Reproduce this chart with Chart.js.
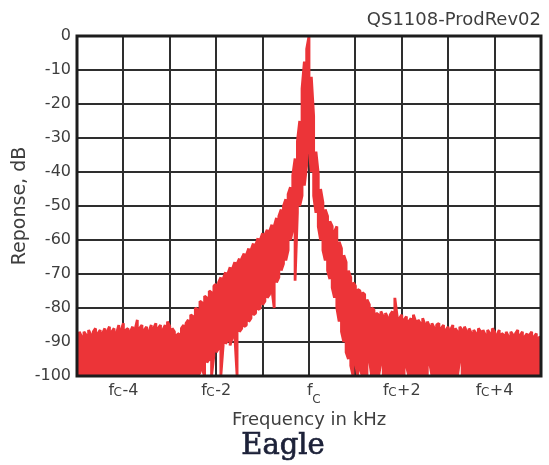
<!DOCTYPE html>
<html>
<head>
<meta charset="utf-8">
<title>Eagle spectrum</title>
<script src="https://cdn.jsdelivr.net/npm/chart.js@4.4.1/dist/chart.umd.min.js"></script>
<style>
  html, body { margin: 0; padding: 0; background: #ffffff; }
  #wrap { width: 549px; height: 465px; }
</style>
</head>
<body>
<div id="wrap"><canvas id="spectrum" width="549" height="465"></canvas></div>
<script>
// Frequency offset from the carrier fc, in kHz
const freqs = [
  -5,-4.95,-4.9,-4.85,-4.8,-4.75,-4.7,-4.65,-4.6,-4.55,-4.5,-4.45,-4.4,-4.35,-4.3,-4.25,-4.2,-4.15,-4.1,-4.05,
  -4,-3.95,-3.9,-3.85,-3.8,-3.75,-3.7,-3.65,-3.6,-3.55,-3.5,-3.45,-3.4,-3.35,-3.3,-3.25,-3.2,-3.15,-3.1,-3.05,
  -3,-2.95,-2.9,-2.85,-2.8,-2.75,-2.7,-2.65,-2.6,-2.55,-2.5,-2.45,-2.4,-2.35,-2.3,-2.25,-2.2,-2.15,-2.1,-2.05,
  -2,-1.95,-1.9,-1.85,-1.8,-1.75,-1.7,-1.65,-1.6,-1.55,-1.5,-1.45,-1.4,-1.35,-1.3,-1.25,-1.2,-1.15,-1.1,-1.05,
  -1,-0.95,-0.9,-0.85,-0.8,-0.75,-0.7,-0.65,-0.6,-0.55,-0.5,-0.45,-0.4,-0.35,-0.3,-0.25,-0.2,-0.15,-0.1,-0.05,
  0,0.05,0.1,0.15,0.2,0.25,0.3,0.35,0.4,0.45,0.5,0.55,0.6,0.65,0.7,0.75,0.8,0.85,0.9,0.95,
  1,1.05,1.1,1.15,1.2,1.25,1.3,1.35,1.4,1.45,1.5,1.55,1.6,1.65,1.7,1.75,1.8,1.85,1.9,1.95,
  2,2.05,2.1,2.15,2.2,2.25,2.3,2.35,2.4,2.45,2.5,2.55,2.6,2.65,2.7,2.75,2.8,2.85,2.9,2.95,
  3,3.05,3.1,3.15,3.2,3.25,3.3,3.35,3.4,3.45,3.5,3.55,3.6,3.65,3.7,3.75,3.8,3.85,3.9,3.95,
  4,4.05,4.1,4.15,4.2,4.25,4.3,4.35,4.4,4.45,4.5,4.55,4.6,4.65,4.7,4.75,4.8,4.85,4.9,4.95,
  5
];

// Upper edge of the measured response trace, dB
const responseHigh = [
  -88,-87,-88.5,-87,-88,-86.5,-88,-87,-86,-87.5,-86.5,-87.5,-86,-87,-85.5,-87,-86,-87.5,-85,-86.5,
  -84.5,-86.5,-86,-87,-85.5,-86.5,-83.5,-86,-85,-86.5,-85.5,-87,-85,-86,-84.5,-86,-85,-86.5,-85,-84,
  -85.5,-86,-87,-88,-87.5,-86,-85,-84.5,-83.5,-82,-82.5,-80,-80.5,-78,-78.5,-76.5,-77,-75,-75.5,-73.5,
  -73,-72.5,-71,-71.5,-69.5,-70,-68,-68.5,-66.5,-67,-65.5,-65.5,-64,-64.5,-62.5,-63,-61,-61.5,-59.5,-60,
  -58,-58.5,-57,-57.5,-55.5,-56,-53.5,-53,-51,-50,-48,-46.5,-44.5,-41,-36,-31,-25,-15.5,-7.5,-3.8,
  0,-12,-23.5,-34,-40.5,-45,-49,-51,-53,-54.5,-56,-57.5,-56,-60.5,-62.5,-64.5,-66.5,-69,-71,-72.5,
  -73.5,-74.5,-75,-75.5,-76,-77.5,-79,-80,-80.5,-81.5,-82,-81,-82.5,-81.5,-83,-82,-81,-77,-82.5,-83,
  -82,-83.5,-82.5,-84,-83,-82,-84,-83.5,-84.5,-83,-85,-84,-85.5,-84.5,-86,-85,-84.5,-86,-85,-86.5,
  -85.5,-86.5,-85,-86,-87,-85.5,-86.5,-85.5,-87,-86,-87.5,-86.5,-87.5,-86,-87,-86.5,-88,-86.5,-87.5,-86,
  -87,-88,-86.5,-87.5,-88,-87,-88.5,-87,-88,-87.5,-86.5,-88,-87,-88.5,-87.5,-88,-87,-88.5,-87.5,-88.5,
  -89
];

// Lower edge of the measured response trace, dB
const responseLow = [
  -100,-100,-100,-100,-100,-100,-100,-100,-100,-100,-100,-100,-100,-100,-100,-100,-100,-100,-100,-100,
  -100,-100,-100,-100,-100,-100,-100,-100,-100,-100,-100,-100,-100,-100,-100,-100,-100,-100,-100,-100,
  -100,-100,-100,-100,-100,-100,-100,-100,-100,-100,-100,-100,-100,-99,-98,-100,-96,-95,-100,-94,
  -93,-92,-100,-91,-90.5,-89.5,-91,-88.5,-88,-100,-87,-86,-85.5,-85,-84,-83,-82,-81.5,-80.5,-80,
  -79,-78,-77,-76,-74.5,-80,-72.5,-71,-69,-67,-66,-63,-60,-57,-72,-52,-50,-47,-44,-38,
  -33,-40,-47,-52,-56,-60,-63,-66,-69,-71.5,-74,-77,-80,-84,-87,-90,-93,-95,-97,-100,
  -96,-100,-98,-100,-100,-100,-95,-100,-100,-100,-100,-96,-100,-100,-100,-100,-100,-100,-100,-100,
  -100,-100,-97,-100,-100,-100,-100,-100,-100,-100,-100,-100,-96,-100,-100,-100,-100,-100,-100,-100,
  -100,-100,-100,-100,-100,-95,-100,-100,-100,-100,-100,-100,-100,-100,-100,-100,-100,-100,-100,-100,
  -100,-100,-100,-100,-100,-100,-100,-100,-100,-100,-100,-100,-100,-100,-100,-100,-100,-100,-100,-100,
  -100
];

// Labelled frequency ticks: "fC" followed by the offset
const xTickValues = [-4, -2, 0, 2, 4];
const xTickSuffixes = ['-4', '-2', '', '+2', '+4'];

const traceRed = '#ec3438';
const textGray = '#3e3e3e';
const gridDark = '#2e2e2e';

// Tick labels on the frequency axis, drawn with a subscript "C", plus the product name
const carrierTicks = {
  id: 'carrierTicks',
  afterDraw(chart) {
    const { ctx, chartArea } = chart;
    const xs = chart.scales.x;
    const mainFont = '16px "DejaVu Sans"';
    const subFont = '12px "DejaVu Sans"';
    ctx.save();
    ctx.fillStyle = textGray;
    ctx.textAlign = 'left';
    ctx.textBaseline = 'alphabetic';
    xTickValues.forEach((v, i) => {
      const suffix = xTickSuffixes[i];
      ctx.font = mainFont;
      const wf = ctx.measureText('f').width;
      const ws = ctx.measureText(suffix).width;
      ctx.font = subFont;
      const wc = ctx.measureText('C').width;
      const px = xs.getPixelForValue(v);
      const base = chartArea.bottom + 19;
      const left = suffix === '' ? px - 2 : px - (wf + wc + ws) / 2;
      ctx.font = mainFont;
      ctx.fillText('f', left, base);
      ctx.font = subFont;
      ctx.fillText('C', left + wf - 0.5, base + (suffix === '' ? 8 : 1));
      ctx.font = mainFont;
      ctx.fillText(suffix, left + wf + wc, base);
    });
    ctx.font = '29px "DejaVu Serif"';
    ctx.fillStyle = '#1c2138';
    ctx.strokeStyle = '#1c2138';
    ctx.lineWidth = 0.7;
    ctx.textAlign = 'center';
    ctx.fillText('Eagle', 283, 454);
    ctx.strokeText('Eagle', 283, 454);
    ctx.restore();
  }
};

// Heavy frame round the plotting area
const plotFrame = {
  id: 'plotFrame',
  afterDatasetsDraw(chart) {
    const { ctx, chartArea: a } = chart;
    ctx.save();
    ctx.strokeStyle = '#1c1c1c';
    ctx.lineWidth = 3;
    ctx.strokeRect(a.left, a.top, a.right - a.left, a.bottom - a.top);
    ctx.restore();
  }
};

// The analyser trace sweeps each frequency bin from its high to its low
// reading, alternating direction, so one thick stroke covers the whole band.
const tracePts = [];
freqs.forEach((f, i) => {
  const pair = [{ x: f, y: responseHigh[i] }, { x: f, y: responseLow[i] }];
  if (i % 2 === 1) pair.reverse();
  tracePts.push(pair[0], pair[1]);
});

new Chart(document.getElementById('spectrum'), {
  type: 'line',
  data: {
    datasets: [{
      label: 'Response',
      data: tracePts,
      borderColor: traceRed,
      borderWidth: 2.8,
      borderJoinStyle: 'bevel',
      borderCapStyle: 'butt',
      pointRadius: 0,
      tension: 0,
      fill: false
    }]
  },
  options: {
    responsive: false,
    animation: false,
    events: [],
    layout: { padding: { top: 0, right: 8, bottom: 0, left: 0 } },
    plugins: {
      legend: { display: false },
      tooltip: { enabled: false },
      title: {
        display: true,
        text: 'QS1108-ProdRev02',
        align: 'end',
        color: textGray,
        font: { family: 'DejaVu Sans', size: 18, weight: 'normal' },
        padding: { top: 10, bottom: 4.4 }
      }
    },
    scales: {
      x: {
        type: 'linear',
        min: -5,
        max: 5,
        ticks: { stepSize: 1, display: false },
        grid: { color: gridDark, lineWidth: 2, drawTicks: false },
        border: { display: false },
        title: {
          display: true,
          text: 'Frequency in kHz',
          color: textGray,
          font: { family: 'DejaVu Sans', size: 18 },
          padding: { top: 0, bottom: 33.6 }
        },
        afterFit(scale) { scale.height = 89; }
      },
      y: {
        min: -100,
        max: 0,
        ticks: {
          stepSize: 10,
          color: textGray,
          padding: 6,
          font: { family: 'DejaVu Sans', size: 16 }
        },
        grid: { color: gridDark, lineWidth: 2, drawTicks: false },
        border: { display: false },
        title: {
          display: true,
          text: 'Reponse, dB',
          color: textGray,
          font: { family: 'DejaVu Sans', size: 19 },
          padding: { top: 8.6, bottom: 0 }
        },
        afterFit(scale) { scale.width = 77; }
      }
    }
  },
  plugins: [plotFrame, carrierTicks]
});
</script>
</body>
</html>
